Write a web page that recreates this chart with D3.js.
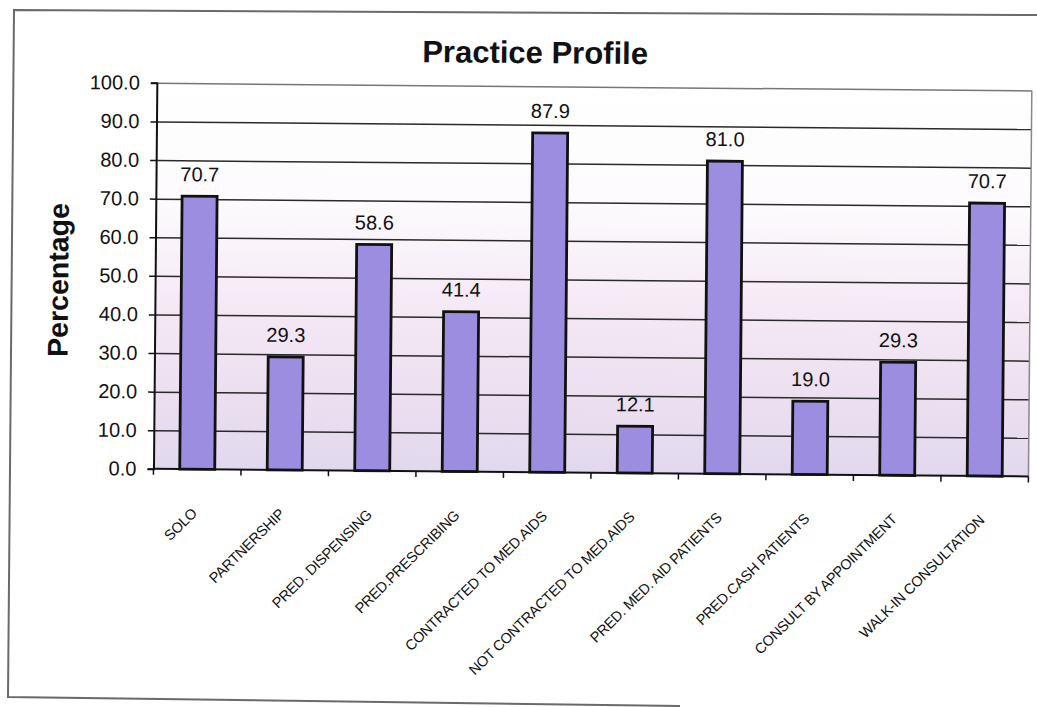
<!DOCTYPE html>
<html>
<head>
<meta charset="utf-8">
<script src="https://cdn.jsdelivr.net/npm/d3@7/dist/d3.min.js"></script>
<style>
  html, body { margin: 0; padding: 0; background: #fff; }
  svg { display: block; }
  text { font-family: Arial, "Liberation Sans", sans-serif; fill: #111; }
</style>
</head>
<body>
<svg id="chart" width="1037" height="707"></svg>
<script>
const title = "Practice Profile";
const yTitle = "Percentage";
const categories = [
  "SOLO", "PARTNERSHIP", "PRED. DISPENSING", "PRED.PRESCRIBING",
  "CONTRACTED TO MED.AIDS", "NOT CONTRACTED TO MED.AIDS",
  "PRED. MED. AID PATIENTS", "PRED.CASH PATIENTS",
  "CONSULT BY APPOINTMENT", "WALK-IN CONSULTATION"
];
const values = [70.7, 29.3, 58.6, 41.4, 87.9, 12.1, 81.0, 19.0, 29.3, 70.7];
const yTicks = [0, 10, 20, 30, 40, 50, 60, 70, 80, 90, 100];

const svg = d3.select("#chart");

// scanned page frame
svg.append("path")
  .attr("d", "M1037,15 L14,10 L8,697 L680,706")
  .attr("fill", "none").attr("stroke", "#6a6a6a").attr("stroke-width", 2);

const root = svg.append("g").attr("transform", "rotate(0.5,518,353)");

const plot = { left: 154.5, right: 1029.5, top: 86, bottom: 472 };
const pw = plot.right - plot.left, ph = plot.bottom - plot.top;

const defs = svg.append("defs");
const grad = defs.append("linearGradient").attr("id", "bg")
  .attr("x1", 0).attr("y1", 0).attr("x2", 0).attr("y2", 1);
[[0, "#ffffff"], [0.3, "#fdfbfd"], [0.55, "#f6eaf6"], [0.8, "#ecdff0"], [1, "#e2d8ee"]]
  .forEach(([o, c]) => grad.append("stop").attr("offset", o).attr("stop-color", c));

const x = d3.scaleBand().domain(categories).range([plot.left, plot.right])
  .paddingInner(0.6).paddingOuter(0.3);
const y = d3.scaleLinear().domain([0, 100]).range([plot.bottom, plot.top]);

// background
root.append("rect").attr("x", plot.left).attr("y", plot.top)
  .attr("width", pw).attr("height", ph).attr("fill", "url(#bg)");

// gridlines
const grid = root.append("g").attr("transform", `translate(${plot.left},0)`)
  .call(d3.axisLeft(y).tickValues(yTicks.filter(d => d > 0)).tickSize(-pw).tickFormat(""));
grid.select(".domain").remove();
grid.selectAll(".tick line")
  .attr("stroke", d => d === 100 ? "#777" : "#2a2a2a")
  .attr("stroke-width", 1.5);

// right border
root.append("line").attr("x1", plot.right).attr("x2", plot.right)
  .attr("y1", plot.top).attr("y2", plot.bottom)
  .attr("stroke", "#888").attr("stroke-width", 1.5);

// bars
root.append("g").selectAll("rect").data(values).join("rect")
  .attr("x", (d, i) => x(categories[i]))
  .attr("y", d => y(d))
  .attr("width", x.bandwidth())
  .attr("height", d => y(0) - y(d))
  .attr("fill", "#9d8de0")
  .attr("stroke", "#111").attr("stroke-width", 2.8);

// data labels
root.append("g").selectAll("text").data(values).join("text")
  .attr("x", (d, i) => x(categories[i]) + x.bandwidth() / 2)
  .attr("y", d => y(d) - 15)
  .attr("text-anchor", "middle")
  .attr("font-size", 20)
  .text(d => d3.format(".1f")(d));

// y axis
const yAxis = root.append("g").attr("transform", `translate(${plot.left},0)`)
  .call(d3.axisLeft(y).tickValues(yTicks).tickFormat(d3.format(".1f")).tickSize(6).tickPadding(11));
yAxis.select(".domain").attr("stroke", "#111").attr("stroke-width", 2);
yAxis.selectAll(".tick line").attr("stroke", "#111").attr("stroke-width", 1.5);
yAxis.selectAll(".tick text").attr("font-size", 20)
  .attr("font-family", "Arial, 'Liberation Sans', sans-serif").attr("fill", "#111");

// x axis line and ticks between categories
const step = x.step();
const edges = categories.map(c => x(c) - (step - x.bandwidth()) / 2).concat([plot.right]);
const xAxis = root.append("g");
xAxis.append("line").attr("x1", plot.left).attr("x2", plot.right)
  .attr("y1", plot.bottom).attr("y2", plot.bottom)
  .attr("stroke", "#111").attr("stroke-width", 2);
xAxis.selectAll("line.tk").data(edges).join("line").attr("class", "tk")
  .attr("x1", d => d).attr("x2", d => d)
  .attr("y1", plot.bottom).attr("y2", plot.bottom + 6)
  .attr("stroke", "#111").attr("stroke-width", 1.5);

// x labels
xAxis.selectAll("text").data(categories).join("text")
  .attr("transform", c => `translate(${x(c) + x.bandwidth() / 2 + 1},${plot.bottom + 45}) rotate(-45)`)
  .attr("text-anchor", "end")
  .attr("font-size", 14.5)
  .attr("letter-spacing", -0.3)
  .text(c => c);

// titles
root.append("text").attr("x", 532.5).attr("y", 63)
  .attr("text-anchor", "middle").attr("font-size", 31).attr("font-weight", "bold")
  .text(title);
root.append("text").attr("transform", "translate(67.5,284) rotate(-90)")
  .attr("text-anchor", "middle").attr("font-size", 28.5).attr("font-weight", "bold")
  .text(yTitle);
</script>
</body>
</html>
